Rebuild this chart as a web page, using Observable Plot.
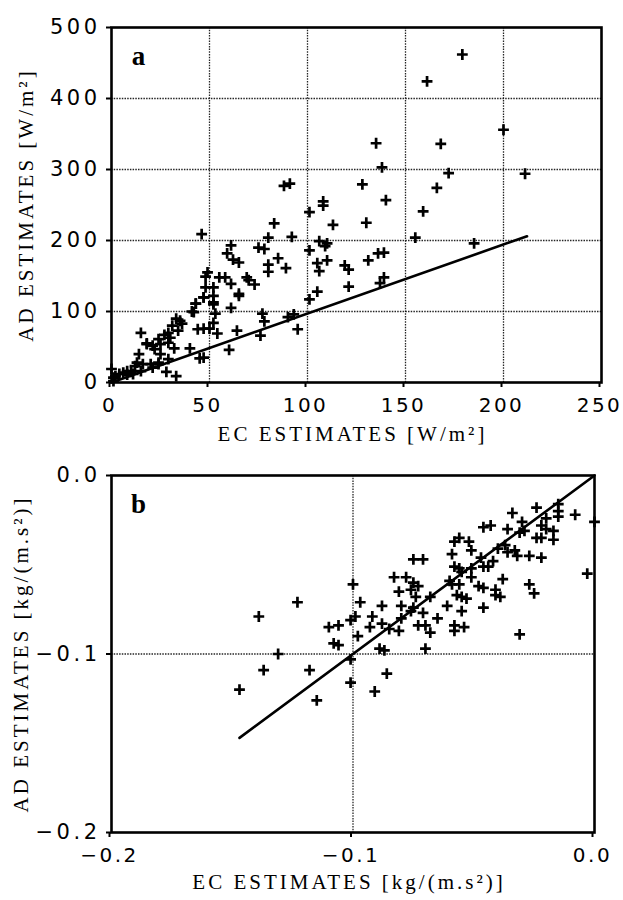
<!DOCTYPE html>
<html><head><meta charset="utf-8">
<script src="https://cdn.jsdelivr.net/npm/d3@7"></script>
<script src="https://cdn.jsdelivr.net/npm/@observablehq/plot@0.6"></script>
<style>
html,body{margin:0;padding:0;background:#fff;}
#chart{width:623px;}
#chart svg{display:block;background:#fff;}
g[aria-label="x-axis tick label"] text{letter-spacing:2.5px;}
g[aria-label="y-axis tick label"] text{letter-spacing:3.5px;}
</style></head><body><div id="chart"></div>
<script>
// Panel a: EC vs AD estimates [W/m²]
const ecA = [179,161,200,135,168,138,172,211,166,128,140,159,155,185,130,88,91,108,108,101,113,83,92,80,46,106,110,109,101,136,139,131,105,110,106,119,121,121,105,101,137,139,75,78,85,89,80,80,61,59,62,65,61,65,65,49,48,52,52,53,54,69,70,73,48,41,43,47,52,52,50,64,60,44,47,45,47,40,77,78,76,95,90,93,42,36,33,35,31,34,29,32,29,33,28,25,25,24,27,30,29,21,18,15,14,18,22,24,20,16,13,12,15,11,8,6,4,0,1,1,2,8,10,21,24,55,58,61,43,52,47];
const adA = [462,424,356,337,336,303,295,294,274,279,257,241,204,196,225,277,280,255,249,240,222,224,205,204,209,199,196,192,186,182,183,172,168,172,157,165,159,135,128,117,140,148,190,188,175,161,166,156,193,182,173,169,139,125,122,155,149,113,110,97,69,148,144,138,134,100,111,120,84,122,76,73,46,75,35,34,76,48,97,86,66,75,92,96,99,83,90,87,80,73,70,48,33,9,15,40,54,61,67,63,56,52,55,70,40,54,47,28,26,26,28,23,16,12,16,14,12,19,7,2,9,11,15,21,26,148,148,105,111,134,120];
const fitAx = [0, 212];
const fitAy = [0, 206];
const ticksAx = [0, 50, 100, 150, 200, 250];
const ticksAy = [0, 100, 200, 300, 400, 500];
const gridAx = [50, 100, 150, 200];
const gridAy = [100, 200, 300, 400];

// Panel b: EC vs AD estimates [kg/(m.s²)]
const ecB = [-0.147,-0.139,-0.137,-0.131,-0.123,-0.118,-0.115,-0.110,-0.106,-0.108,-0.106,-0.101,-0.101,-0.100,-0.101,-0.099,-0.097,-0.098,-0.092,-0.093,-0.088,-0.088,-0.089,-0.087,-0.091,-0.086,-0.085,-0.083,-0.081,-0.080,-0.081,-0.080,-0.078,-0.076,-0.075,-0.074,-0.075,-0.073,-0.076,-0.073,-0.071,-0.070,-0.070,-0.068,-0.068,-0.075,-0.071,-0.065,-0.061,-0.060,-0.059,-0.058,-0.057,-0.058,-0.058,-0.059,-0.056,-0.058,-0.056,-0.056,-0.055,-0.055,-0.054,-0.055,-0.053,-0.052,-0.051,-0.051,-0.048,-0.046,-0.047,-0.046,-0.044,-0.046,-0.043,-0.041,-0.040,-0.041,-0.039,-0.038,-0.036,-0.036,-0.034,-0.033,-0.032,-0.031,-0.031,-0.030,-0.029,-0.027,-0.025,-0.027,-0.024,-0.024,-0.022,-0.022,-0.020,-0.020,-0.017,-0.017,-0.015,-0.015,-0.015,-0.008,0.000,-0.003,-0.022,-0.042,-0.046,-0.037,-0.051];
const adB = [-0.120,-0.079,-0.109,-0.100,-0.071,-0.109,-0.126,-0.085,-0.084,-0.094,-0.095,-0.103,-0.116,-0.061,-0.081,-0.079,-0.071,-0.090,-0.079,-0.085,-0.073,-0.083,-0.097,-0.098,-0.121,-0.111,-0.086,-0.057,-0.065,-0.073,-0.087,-0.080,-0.057,-0.064,-0.060,-0.068,-0.074,-0.084,-0.076,-0.062,-0.077,-0.084,-0.097,-0.068,-0.088,-0.047,-0.047,-0.080,-0.073,-0.059,-0.044,-0.051,-0.067,-0.084,-0.087,-0.061,-0.035,-0.037,-0.052,-0.061,-0.054,-0.068,-0.085,-0.076,-0.069,-0.037,-0.057,-0.042,-0.062,-0.063,-0.046,-0.074,-0.051,-0.029,-0.028,-0.064,-0.041,-0.067,-0.068,-0.058,-0.043,-0.030,-0.021,-0.042,-0.045,-0.032,-0.089,-0.026,-0.031,-0.061,-0.066,-0.045,-0.018,-0.035,-0.035,-0.028,-0.024,-0.030,-0.036,-0.031,-0.020,-0.016,-0.023,-0.022,-0.026,-0.055,-0.046,-0.048,-0.051,-0.039,-0.052];
const fitBx = [-0.147, 0];
const fitBy = [-0.147, 0];
const ticksB = [-0.2, -0.1, 0];
const gridB = [-0.1];

const titleAx = "EC ESTIMATES [W/m²]";
const titleAy = "AD ESTIMATES [W/m²]";
const titleBx = "EC ESTIMATES [kg/(m.s²)]";
const titleBy = "AD ESTIMATES [kg/(m.s²)]";

const plusSym = {draw(ctx, size) {
  const r = Math.sqrt(size / Math.PI);
  ctx.moveTo(-r, 0); ctx.lineTo(r, 0);
  ctx.moveTo(0, -r); ctx.lineTo(0, r);
}};

const tickFont = "DejaVu Sans";
const serif = "Liberation Serif";
const gridStyle = {stroke: "#000", strokeOpacity: 0.85, strokeWidth: 1.3, strokeDasharray: "1.5,1.2"};

function panel({xs, ys, fx, fy, xDomain, yDomain, ticksX, ticksY, gridX, gridY, fmt, tx, ty, letter, height, mt, mb, mr, titleDy, ytDx}) {
  const pts = xs.map((x, i) => ({x, y: ys[i]}));
  const fit = fx.map((x, i) => ({x, y: fy[i]}));
  return Plot.plot({
    width: 623, height,
    marginLeft: 111, marginRight: mr, marginTop: mt, marginBottom: mb,
    style: {fontFamily: tickFont, fontSize: "21px", background: "white", color: "black"},
    x: {domain: xDomain}, y: {domain: yDomain},
    marks: [
      Plot.gridX(gridX, gridStyle),
      Plot.gridY(gridY, gridStyle),
      Plot.axisX(ticksX, {tickSize: 5, tickPadding: 10, strokeWidth: 2, fontSize: 20, fontFamily: tickFont, tickFormat: fmt, label: null, dx: -2}),
      Plot.axisY(ticksY, {tickSize: 5, tickPadding: 6, strokeWidth: 2, fontSize: 21, fontFamily: tickFont, tickFormat: fmt, label: null}),
      Plot.line(fit, {x: "x", y: "y", stroke: "#000", strokeWidth: 2.6}),
      Plot.dot(pts, {x: "x", y: "y", symbol: plusSym, r: 5.4, stroke: "#000", strokeWidth: 2.7, fill: "none"}),
      Plot.frame({stroke: "#000", strokeWidth: 2.6}),
      Plot.text([tx], {text: d => d, frameAnchor: "bottom", textAnchor: "middle", dy: titleDy, dx: -4, fontFamily: serif, fontSize: 21, fill: "#000"}),
      Plot.text([ty], {text: d => d, frameAnchor: "left", textAnchor: "middle", dx: ytDx, rotate: -90, fontFamily: serif, fontSize: 21, fill: "#000"}),
      Plot.text([letter], {text: d => d, frameAnchor: "top-left", textAnchor: "middle", dx: 27, dy: 37, lineAnchor: "bottom", fontFamily: serif, fontSize: 27, fontWeight: "bold", fill: "#000"})
    ]
  });
}

const fmtA = d3.format("d");
const fmtB = d3.format(".1f");

const a = panel({xs: ecA, ys: adA, fx: fitAx, fy: fitAy, xDomain: [0, 250], yDomain: [0, 500],
  ticksX: ticksAx, ticksY: ticksAy, gridX: gridAx, gridY: gridAy, fmt: fmtA,
  tx: titleAx, ty: titleAy, letter: "a", height: 455, mt: 27, mb: 73, mr: 22, titleDy: 58, ytDx: -85});
const b = panel({xs: ecB, ys: adB, fx: fitBx, fy: fitBy, xDomain: [-0.2, 0], yDomain: [-0.2, 0],
  ticksX: ticksB, ticksY: ticksB, gridX: gridB, gridY: gridB, fmt: fmtB,
  tx: titleBx, ty: titleBy, letter: "b", height: 445, mt: 20, mb: 68, mr: 29, titleDy: 56, ytDx: -90});

const root = document.getElementById("chart");
root.appendChild(a);
root.appendChild(b);
for (const t of root.querySelectorAll("text")) {
  if (t.textContent.includes("ESTIMATES")) t.style.letterSpacing = "3px";
}
</script>
</body></html>
